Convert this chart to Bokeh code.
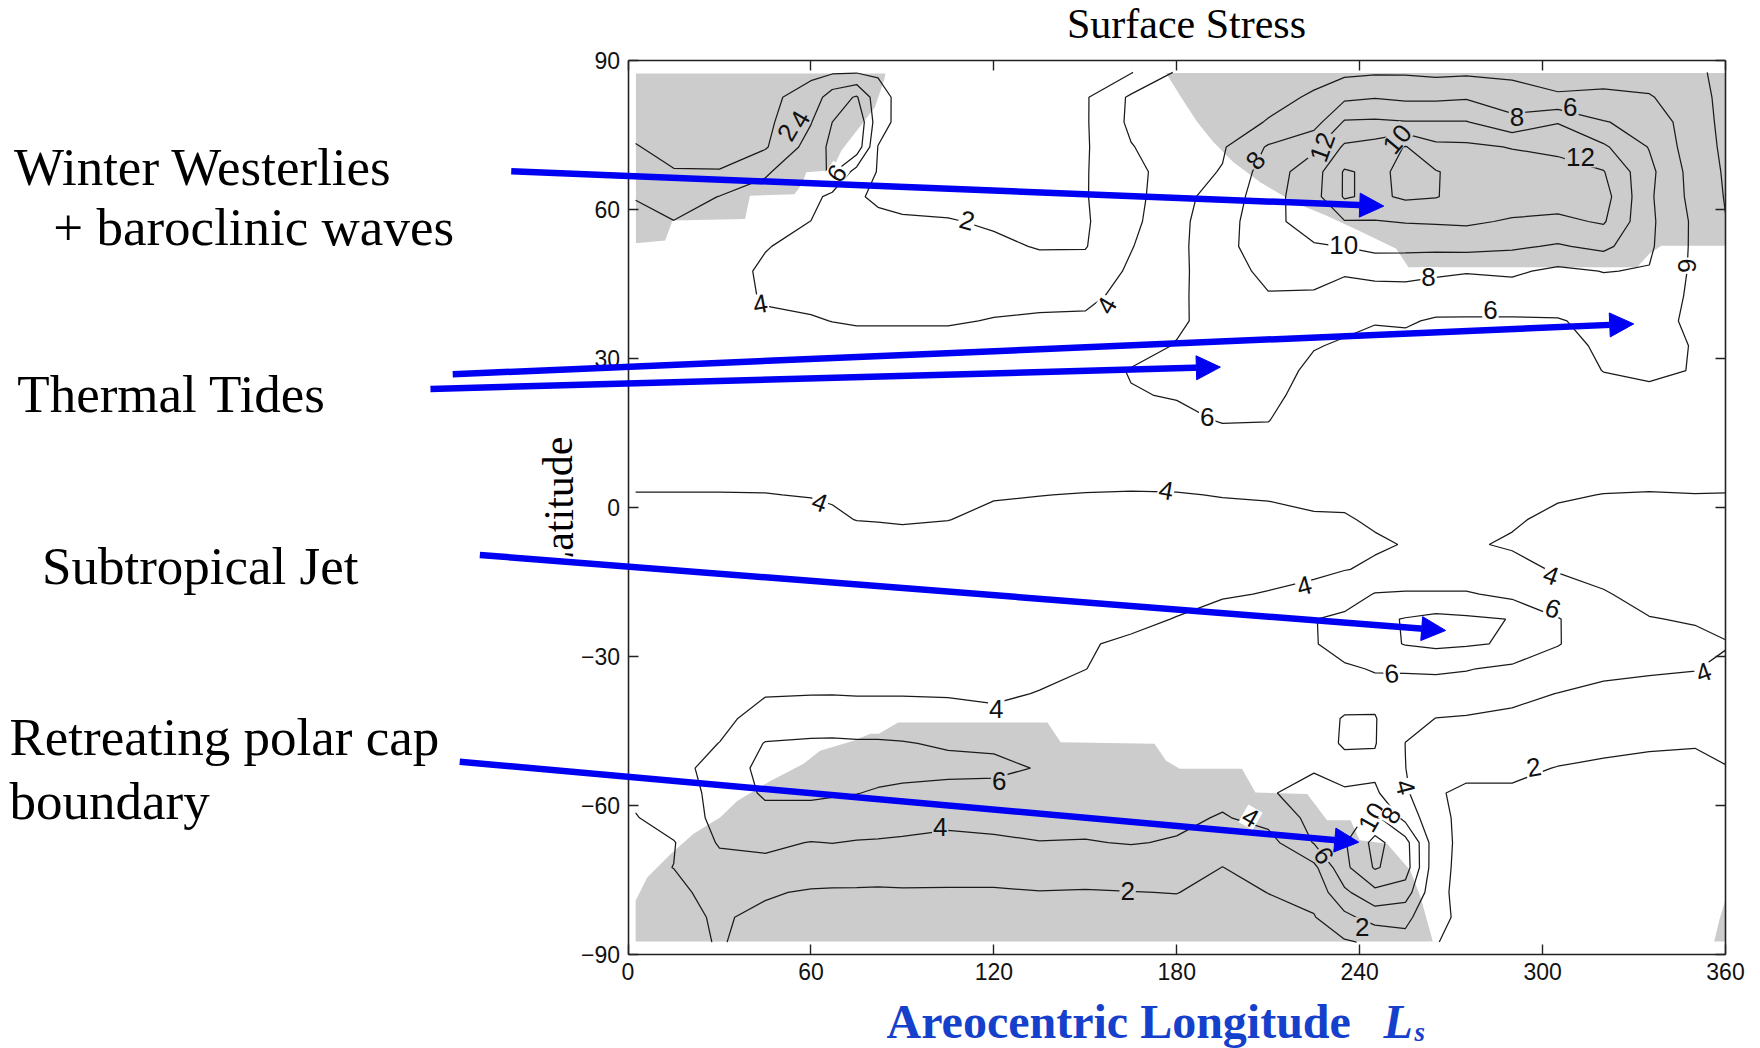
import numpy as np
from bokeh.plotting import figure
from bokeh.models import LinearAxis, FixedTicker, Arrow, NormalHead, ColumnDataSource, Range1d
from bokeh.core.properties import value
from bokeh.embed import file_html
from bokeh.resources import INLINE

# ---------------- data: surface stress field (rows north -> south) ----------------
ls_grid = [2.5, 15, 30, 45, 60, 67, 75, 82, 90, 105, 120, 135, 150, 165, 180, 195, 210,
           225, 235, 245, 255, 265, 275, 290, 305, 320, 335, 350, 360]
lat_rows = [87.5, 82.5, 77.5, 72.5, 67.5, 62.5, 57.5, 52.5, 47.5, 42.5, 37.5, 32.5, 27.5,
            22.5, 17.5, 12.5, 7.5, 2.5, -2.5, -7.5, -12.5, -17.5, -22.5, -27.5, -32.5,
            -37.5, -42.5, -47.5, -52.5, -57.5, -62.5, -67.5, -72.5, -77.5, -82.5, -87.5]

r_p875 = [1.5, 1.5, 1.4, 1.5, 1.6, 1.8, 1.9, 1.8, 1.4, 1.3, 1.3, 1.3, 1.4, 1.9, 4.2, 4.6, 5.1, 5.5, 5.6, 5.8, 5.8, 5.6, 5.7, 5.6, 5.3, 5.0, 4.8, 4.2, 3.7]
r_p825 = [1.6, 1.5, 1.4, 1.5, 2.8, 5.0, 6.2, 2.7, 1.4, 1.3, 1.3, 1.3, 1.8, 4.3, 4.6, 4.9, 5.5, 6.2, 7.6, 7.9, 7.6, 7.6, 7.8, 6.9, 6.2, 6.5, 6.2, 4.5, 3.6]
r_p775 = [1.7, 1.6, 1.5, 1.5, 3.9, 6.0, 7.8, 2.8, 1.3, 1.2, 1.2, 1.3, 1.8, 4.4, 4.9, 5.2, 6.1, 7.2, 10.2, 10.3, 10.1, 10.1, 10.1, 8.6, 9.9, 8.1, 7.4, 4.7, 3.6]
r_p725 = [2.05, 1.7, 1.6, 1.8, 4.8, 6.5, 7.3, 1.95, 1.3, 1.2, 1.2, 1.3, 1.8, 3.9, 5.1, 5.8, 8.2, 9.6, 12.3, 12.8, 14.1, 12.5, 12.4, 11.9, 11.5, 10.3, 7.9, 4.8, 3.7]
r_p675 = [3.0, 2.05, 2.05, 3.8, 5.2, 6.3, 3.2, 1.9, 1.3, 1.2, 1.2, 1.3, 1.9, 3.2, 5.3, 6.1, 9.0, 11.1, 14.2, 13.6, 14.4, 14.1, 13.4, 13.1, 12.8, 12.1, 8.5, 5.1, 3.8]
r_p625 = [3.95, 3.0, 4.05, 4.6, 4.6, 3.5, 2.2, 1.7, 1.5, 1.4, 1.3, 1.3, 1.9, 3.3, 5.4, 6.8, 9.2, 11.3, 14.2, 13.6, 14.3, 14.1, 13.2, 13.1, 12.9, 12.8, 8.3, 5.3, 3.9]
r_p575 = [4.3, 4.05, 4.5, 4.8, 3.98, 3.3, 2.6, 2.4, 2.2, 2.1, 1.8, 1.5, 1.8, 3.5, 5.5, 7.2, 9.3, 11.1, 11.9, 11.9, 12.1, 12.2, 12.3, 11.8, 11.6, 12.2, 8.4, 5.6, 4.05]
r_p525 = [4.6, 4.6, 4.8, 4.1, 3.4, 3.0, 2.8, 2.7, 2.6, 2.5, 2.3, 1.9, 1.9, 3.9, 5.5, 7.4, 9.1, 9.8, 10.05, 10.6, 10.5, 10.5, 10.6, 10.3, 9.8, 10.5, 8.3, 5.6, 4.4]
r_p475 = [4.7, 4.8, 4.8, 3.7, 3.3, 3.1, 3.05, 3.05, 3.05, 2.9, 2.8, 2.6, 2.7, 4.3, 5.5, 7.3, 8.4, 8.6, 8.2, 8.4, 8.6, 8.3, 8.1, 8.3, 7.6, 8.05, 7.9, 5.6, 4.6]
r_p425 = [4.8, 4.9, 4.9, 3.8, 3.7, 3.6, 3.6, 3.6, 3.6, 3.6, 3.7, 3.7, 3.7, 4.4, 5.6, 7.1, 7.9, 7.8, 7.3, 7.4, 7.2, 7.1, 7.05, 7.05, 6.7, 7.2, 7.2, 5.6, 4.7]
r_p375 = [4.9, 5.05, 5.05, 4.3, 4.1, 3.98, 3.9, 3.9, 3.9, 3.9, 4.05, 4.15, 4.2, 4.8, 5.7, 6.8, 7.05, 6.8, 6.4, 6.1, 6.2, 5.8, 5.8, 5.8, 5.9, 6.4, 6.7, 5.6, 4.8]
r_p325 = [5.05, 5.05, 5.05, 4.7, 4.6, 4.5, 4.4, 4.4, 4.4, 4.4, 4.5, 4.6, 4.7, 5.3, 6.1, 6.8, 6.8, 6.1, 5.8, 5.5, 5.5, 5.3, 5.3, 5.3, 5.2, 6.4, 6.6, 5.9, 5.05]
r_p275 = [5.05, 5.05, 5.05, 4.8, 4.7, 4.7, 4.6, 4.6, 4.6, 4.7, 4.8, 5.05, 5.3, 6.1, 6.3, 6.9, 6.8, 5.6, 5.4, 5.2, 5.1, 5.05, 5.05, 5.05, 4.9, 6.05, 6.4, 5.9, 5.05]
r_p225 = [5.05, 5.05, 5.05, 4.9, 4.8, 4.8, 4.7, 4.7, 4.7, 4.8, 4.9, 5.05, 5.3, 5.9, 6.1, 6.6, 6.5, 5.2, 5.1, 5.05, 4.9, 4.8, 4.8, 4.8, 4.7, 5.2, 5.5, 5.5, 4.9]
r_p175 = [4.9, 4.9, 4.9, 4.8, 4.8, 4.7, 4.7, 4.7, 4.7, 4.8, 4.9, 5.05, 5.2, 5.5, 5.6, 6.1, 6.05, 4.9, 4.9, 4.8, 4.7, 4.6, 4.6, 4.6, 4.5, 4.8, 4.9, 5.05, 4.8]
r_p125 = [4.7, 4.7, 4.7, 4.6, 4.6, 4.6, 4.6, 4.6, 4.6, 4.7, 4.8, 4.8, 4.9, 5.05, 5.1, 5.3, 5.3, 4.7, 4.7, 4.7, 4.55, 4.5, 4.5, 4.5, 4.4, 4.6, 4.6, 4.7, 4.6]
r_p075 = [4.4, 4.4, 4.4, 4.35, 4.3, 4.3, 4.3, 4.3, 4.3, 4.35, 4.4, 4.45, 4.5, 4.55, 4.6, 4.7, 4.7, 4.5, 4.5, 4.5, 4.4, 4.4, 4.4, 4.35, 4.25, 4.4, 4.35, 4.4, 4.35]
r_p025 = [3.95, 3.95, 3.95, 3.97, 4.05, 4.1, 4.15, 4.2, 4.2, 4.18, 4.08, 4.02, 3.95, 3.9, 3.93, 4.05, 4.1, 4.2, 4.25, 4.3, 4.3, 4.3, 4.3, 4.2, 4.1, 3.98, 3.95, 3.98, 3.97]
r_m025 = [3.5, 3.5, 3.5, 3.55, 3.65, 3.85, 4.02, 4.05, 4.1, 4.02, 3.75, 3.6, 3.5, 3.4, 3.5, 3.6, 3.7, 3.9, 3.9, 4.15, 4.2, 4.25, 4.2, 4.1, 3.8, 3.6, 3.5, 3.5, 3.5]
r_m075 = [3.2, 3.2, 3.2, 3.2, 3.3, 3.4, 3.5, 3.55, 3.6, 3.5, 3.3, 3.2, 3.2, 3.2, 3.3, 3.4, 3.5, 3.7, 3.6, 3.85, 4.05, 4.15, 4.1, 3.9, 3.6, 3.4, 3.3, 3.3, 3.2]
r_m125 = [3.05, 3.05, 3.05, 3.05, 3.1, 3.1, 3.2, 3.2, 3.2, 3.2, 3.1, 3.1, 3.1, 3.2, 3.3, 3.5, 3.7, 3.8, 3.95, 4.2, 4.6, 4.6, 4.6, 4.3, 3.9, 3.6, 3.3, 3.3, 3.1]
r_m175 = [3.05, 3.05, 3.05, 3.05, 3.05, 3.05, 3.05, 3.1, 3.1, 3.1, 3.1, 3.2, 3.3, 3.5, 3.6, 3.9, 4.05, 4.3, 5.05, 6.1, 6.2, 6.2, 6.2, 5.5, 4.6, 4.1, 3.6, 3.5, 3.2]
r_m225 = [3.05, 3.05, 3.05, 3.05, 3.05, 3.05, 3.05, 3.05, 3.1, 3.1, 3.2, 3.3, 3.5, 3.7, 4.05, 4.4, 4.6, 5.95, 6.4, 7.6, 8.1, 8.5, 8.3, 7.95, 6.1, 4.7, 4.05, 3.9, 3.5]
r_m275 = [3.6, 3.3, 3.1, 3.1, 3.1, 3.1, 3.1, 3.1, 3.2, 3.3, 3.5, 3.7, 3.9, 4.2, 4.5, 4.8, 5.05, 5.9, 6.6, 7.3, 8.1, 8.4, 8.2, 7.8, 6.1, 4.8, 4.5, 4.3, 4.1]
r_m325 = [3.4, 3.2, 3.2, 3.2, 3.2, 3.3, 3.3, 3.3, 3.4, 3.5, 3.6, 3.7, 3.98, 4.5, 4.9, 5.1, 5.3, 5.5, 5.8, 6.1, 6.2, 6.3, 6.1, 5.6, 5.05, 4.2, 4.15, 4.05, 3.7]
r_m375 = [3.3, 3.3, 3.4, 3.9, 3.95, 3.95, 3.9, 3.9, 3.9, 3.85, 3.8, 4.05, 4.5, 4.8, 5.1, 5.3, 5.5, 5.3, 5.4, 5.5, 5.1, 5.05, 5.05, 4.4, 3.97, 3.8, 3.6, 3.5, 3.3]
r_m425 = [3.2, 3.3, 3.6, 4.6, 4.8, 4.9, 4.9, 4.9, 4.9, 4.8, 4.3, 4.6, 4.9, 5.05, 5.2, 5.4, 5.6, 5.4, 6.1, 6.1, 4.5, 3.98, 3.85, 3.7, 3.3, 3.2, 3.05, 2.9, 2.8]
r_m475 = [3.2, 3.4, 4.02, 6.1, 6.3, 6.3, 6.2, 6.2, 6.1, 5.8, 5.7, 5.5, 5.3, 5.3, 5.3, 5.4, 5.7, 5.6, 6.1, 6.1, 3.98, 3.4, 3.05, 3.05, 2.6, 2.3, 2.1, 2.05, 2.3]
r_m525 = [3.05, 3.3, 4.8, 6.6, 6.8, 6.8, 6.7, 6.7, 6.6, 6.5, 6.4, 5.9, 5.4, 5.3, 5.2, 5.4, 5.8, 5.9, 5.7, 5.6, 4.02, 2.8, 2.3, 2.3, 1.95, 1.8, 1.8, 1.8, 1.95]
r_m575 = [2.4, 3.05, 4.6, 6.3, 6.4, 6.2, 6.05, 5.8, 5.6, 5.4, 5.4, 5.3, 5.2, 5.05, 4.8, 4.5, 5.9, 6.4, 6.1, 6.3, 4.3, 2.1, 1.8, 1.8, 1.6, 1.6, 1.6, 1.6, 1.7]
r_m625 = [1.9, 2.9, 4.5, 5.3, 5.05, 5.05, 4.9, 4.8, 4.6, 4.4, 4.5, 4.6, 4.6, 4.6, 4.4, 3.85, 4.6, 6.6, 7.2, 8.5, 5.4, 2.4, 1.6, 1.5, 1.4, 1.4, 1.4, 1.5, 1.6]
r_m675 = [1.7, 1.9, 4.2, 4.3, 3.95, 4.03, 3.9, 3.85, 3.8, 3.6, 3.75, 3.95, 3.9, 4.1, 3.85, 2.6, 3.3, 6.1, 7.8, 10.6, 8.8, 2.6, 1.5, 1.4, 1.4, 1.4, 1.4, 1.5, 1.6]
r_m725 = [1.6, 2.02, 3.3, 3.6, 3.2, 3.1, 3.05, 2.9, 2.9, 2.8, 2.8, 2.8, 2.7, 2.8, 2.7, 1.98, 2.6, 3.5, 7.5, 10.2, 9.0, 2.5, 1.5, 1.4, 1.4, 1.4, 1.4, 1.5, 1.6]
r_m775 = [1.6, 1.6, 2.6, 2.2, 1.8, 1.75, 1.75, 1.75, 1.8, 1.8, 1.8, 1.95, 1.9, 1.97, 2.03, 1.6, 2.02, 2.6, 5.6, 7.5, 7.0, 2.3, 1.6, 1.4, 1.4, 1.4, 1.4, 1.5, 1.6]
r_m825 = [1.5, 1.5, 2.2, 1.6, 1.4, 1.4, 1.4, 1.4, 1.4, 1.4, 1.4, 1.4, 1.4, 1.5, 1.5, 1.4, 1.6, 1.9, 3.5, 4.8, 4.5, 2.4, 1.6, 1.4, 1.4, 1.4, 1.4, 1.5, 1.6]
r_m875 = [1.4, 1.5, 2.1, 1.5, 1.3, 1.3, 1.3, 1.3, 1.3, 1.3, 1.3, 1.3, 1.3, 1.4, 1.4, 1.3, 1.4, 1.5, 1.8, 2.3, 3.4, 2.05, 1.6, 1.4, 1.4, 1.4, 1.5, 1.5, 1.6]

stress_rows = [r_p875, r_p825, r_p775, r_p725, r_p675, r_p625, r_p575, r_p525, r_p475,
               r_p425, r_p375, r_p325, r_p275, r_p225, r_p175, r_p125, r_p075, r_p025,
               r_m025, r_m075, r_m125, r_m175, r_m225, r_m275, r_m325, r_m375, r_m425,
               r_m475, r_m525, r_m575, r_m625, r_m675, r_m725, r_m775, r_m825, r_m875]
levels = [2, 4, 6, 8, 10, 12, 14]

# polar-cap (shaded) regions: boundary in (Ls, latitude)
cap_nw_ls = [2.6, 84.5, 84, 81, 70, 67, 58.5, 57, 54.6, 40, 38.4, 14.6, 12.2, 2.6]
cap_nw_lat = [87.3, 87.3, 86, 80.5, 71.8, 67.8, 67.4, 65, 63, 62.7, 58, 57.7, 53.7, 53.1]
cap_ne_ls = [176.5, 360, 360, 339, 335, 331, 256, 252, 241, 229, 218.4, 207.4, 198.6, 192, 186.7, 181, 176.5]
cap_ne_lat = [87.4, 87.4, 52.6, 52.6, 51, 48.3, 48.3, 52, 55.3, 58.7, 61.4, 65.4, 69.4, 73.5, 77.5, 82.9, 87.4]
cap_s_ls = [2.5, 2.5, 6.3, 14, 21.5, 30.3, 35.8, 46.7, 57.6, 63, 74, 79.5, 82.3, 88.6, 137.6, 141.9,
            172.7, 176.5, 181, 201.4, 205.8, 222.8, 229.3, 237, 240, 249, 256.6, 260, 264, 2.5]
cap_s_lat = [-87.4, -79.2, -74.5, -69.8, -65.7, -62.4, -59.1, -55.1, -51.6, -49, -47, -45.6, -45.6,
             -43.3, -43.3, -47.3, -47.6, -51, -52.6, -52.6, -57.4, -57.7, -63, -63, -67, -67.7,
             -73.1, -78.5, -87.4, -87.4]
cap_se_ls = [356.3, 358, 360, 360]
cap_se_lat = [-87.4, -83, -79, -87.4]

# inline contour labels
lab_ls = [52.3, 56.4, 68.5, 111.2, 43.4, 157.0, 62.9, 176.5, 221.8, 302.8, 303.4, 250.5, 352.8,
          120.8, 190.0, 282.9, 347.4, 262.6, 234.8, 205.8, 227.7, 252.3, 291.6, 309.1, 312.4,
          121.8, 102.4, 163.9, 204.2, 228.2, 244.0, 250.2, 255.0, 240.8, 297.1]
lab_lat = [75.4, 78.1, 67.2, 57.7, 40.9, 40.6, 1.0, 3.4, -15.8, -13.7, -20.4, -33.5, -33.2,
           -40.6, 18.1, 39.6, 48.6, 46.3, 52.7, 69.8, 72.5, 74.1, 78.5, 80.5, 70.4,
           -55.0, -64.4, -77.2, -62.4, -70.1, -62.4, -62.0, -56.3, -84.5, -52.3]
lab_txt = ["2", "4", "6", "2", "4", "4", "4", "4", "4", "4", "6", "6", "4",
           "4", "6", "6", "6", "8", "10", "8", "12", "10", "8", "6", "12",
           "6", "4", "2", "4", "6", "10", "8", "4", "2", "2"]
lab_ang = [60, 60, 55, -15, 10, 60, -20, -10, 15, -20, -20, 5, 20,
           0, 0, 0, -90, 0, 0, 50, 70, 50, 0, 0, 0,
           0, 0, 0, -30, -55, 60, 60, -75, 0, 10]
lab_bg = ["#cccccc", "#cccccc", "#ffffff", "#ffffff", "#ffffff", "#ffffff", "#ffffff", "#ffffff",
          "#ffffff", "#ffffff", "#ffffff", "#ffffff", "#ffffff", "#ffffff", "#ffffff", "#ffffff",
          "#ffffff", "#ffffff", "#ffffff", "#cccccc", "#cccccc", "#cccccc", "#cccccc", "#cccccc",
          "#cccccc", "#cccccc", "#cccccc", "#cccccc", "#ffffff", "#cccccc", "#ffffff", "#ffffff",
          "#ffffff", "#cccccc", "#ffffff"]

x_ticks = [0, 60, 120, 180, 240, 300, 360]
y_ticks = [-90, -60, -30, 0, 30, 60, 90]

# annotation arrows: tail (Ls, lat) -> head (Ls, lat)
arrow_x0 = [-38.3, -57.5, -64.8, -48.6, -55.2]
arrow_y0 = [67.6, 26.75, 23.8, -9.6, -51.2]
arrow_x1 = [247.9, 329.9, 194.3, 268.2, 239.7]
arrow_y1 = [60.6, 36.9, 28.2, -24.8, -67.4]

# ---------------- figure geometry ----------------
W, H = 1760, 1048
X0_PX, X360_PX = 627.5, 1725.0
YN_PX, YS_PX = 59.5, 954.0
kx = (X360_PX - X0_PX) / 360.0
ky = (YS_PX - YN_PX) / 180.0


def px_x(px):
    return (px - X0_PX) / kx


def px_y(py):
    return 90.0 - (py - YN_PX) / ky


p = figure(width=W, height=H, x_range=Range1d(px_x(0), px_x(W)), y_range=Range1d(px_y(H), px_y(0)),
           output_backend="svg", toolbar_location=None, min_border=0,
           x_axis_type=None, y_axis_type=None)
p.outline_line_color = None
p.background_fill_color = "white"
p.border_fill_color = "white"

GRAY = "#cccccc"
for xs, ys in [(cap_nw_ls, cap_nw_lat), (cap_ne_ls, cap_ne_lat), (cap_s_ls, cap_s_lat), (cap_se_ls, cap_se_lat)]:
    p.patch(x=xs, y=ys, fill_color=GRAY, line_color=None)

z = np.array(stress_rows, dtype=float)[::-1]
lat_inc = np.array(lat_rows, dtype=float)[::-1]
p.contour(x=np.array(ls_grid, dtype=float), y=lat_inc, z=z, levels=levels,
          line_color="#1a1a1a", line_width=1.25)

lab_src = ColumnDataSource(dict(x=lab_ls, y=lab_lat, text=lab_txt, angle=lab_ang, bg=lab_bg))
p.text(x="x", y="y", text="text", angle="angle", angle_units="deg", source=lab_src,
       text_font=value("Liberation Sans"), text_font_size="26px", text_color="#111111",
       text_align="center", text_baseline="middle", background_fill_color="bg", padding=1)


def add_axis(side, loc, ticks, bounds, show_labels):
    ax = LinearAxis(fixed_location=loc, bounds=bounds, ticker=FixedTicker(ticks=ticks),
                    major_tick_in=10, major_tick_out=0, minor_tick_line_color=None,
                    axis_line_color="#222222", axis_line_width=1.6,
                    major_tick_line_color="#222222", major_tick_line_width=1.4,
                    major_label_text_font="Liberation Sans", major_label_text_font_size="23px",
                    major_label_text_color="#111111", major_label_standoff=8)
    if side == "left":
        ax.major_label_overrides = {t: (("\u2212" + str(-t)) if t < 0 else str(t)) for t in ticks}
    if not show_labels:
        ax.major_label_text_alpha = 0
    p.add_layout(ax, side)


add_axis("below", -90, x_ticks, (0, 360), True)
add_axis("left", 0, y_ticks, (-90, 90), True)
add_axis("above", 90, x_ticks, (0, 360), False)
add_axis("right", 360, y_ticks, (-90, 90), False)

SERIF = value("Liberation Serif")
# y-axis title (its first letter is masked in the reference)
p.text(x=[px_x(558)], y=[px_y(506)], text=["Latitude"], angle=[90], angle_units="deg",
       text_font=SERIF, text_font_size="42px", text_color="black", text_align="center",
       text_baseline="middle")
p.quad(left=[px_x(535)], right=[px_x(582)], top=[px_y(556)], bottom=[px_y(592)],
       fill_color="white", line_color=None)

BLUE = "#0000f2"
for a0, b0, a1, b1 in zip(arrow_x0, arrow_y0, arrow_x1, arrow_y1):
    p.add_layout(Arrow(x_start=a0, y_start=b0, x_end=a1, y_end=b1, line_color=BLUE, line_width=6.5,
                       end=NormalHead(size=24, fill_color=BLUE, line_color=BLUE, line_width=1)))

notes = [("Winter Westerlies", 13.5, 166), ("+ baroclinic waves", 52.8, 226),
         ("Thermal Tides", 16.8, 393), ("Subtropical Jet", 41.5, 565),
         ("Retreating polar cap", 9, 736.5), ("boundary", 9, 800.5)]
p.text(x=[px_x(n[1]) for n in notes], y=[px_y(n[2]) for n in notes], text=[n[0] for n in notes],
       text_font=SERIF, text_font_size="53px", text_color="black",
       text_align="left", text_baseline="middle")

p.text(x=[px_x(1186)], y=[px_y(23)], text=["Surface Stress"], text_font=SERIF,
       text_font_size="42px", text_color="black", text_align="center", text_baseline="middle")

XLAB = "#1540cc"
p.text(x=[px_x(886)], y=[px_y(1021)], text=["Areocentric Longitude"], text_font=SERIF,
       text_font_size="48px", text_font_style="bold", text_color=XLAB, text_align="left",
       text_baseline="middle")
p.text(x=[px_x(1383)], y=[px_y(1021)], text=["L"], text_font=SERIF,
       text_font_size="48px", text_font_style="bold italic", text_color=XLAB, text_align="left",
       text_baseline="middle")
p.text(x=[px_x(1414)], y=[px_y(1031)], text=["s"], text_font=SERIF,
       text_font_size="27px", text_font_style="bold italic", text_color=XLAB, text_align="left",
       text_baseline="middle")

open("out.html", "w").write(file_html(p, INLINE))
